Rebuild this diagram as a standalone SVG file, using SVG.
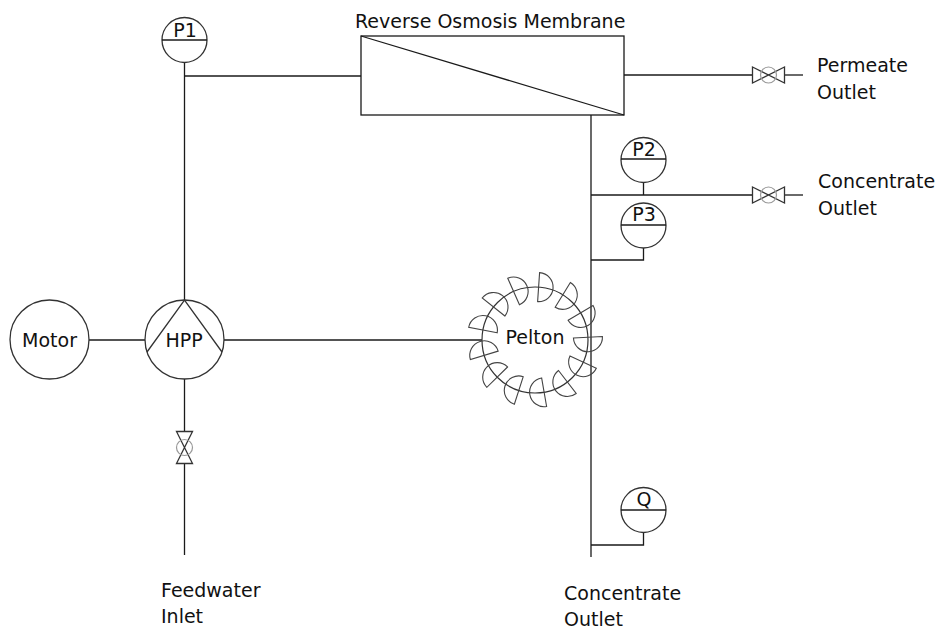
<svg xmlns="http://www.w3.org/2000/svg" xmlns:xlink="http://www.w3.org/1999/xlink" width="939" height="630" viewBox="0 0 939 630">
  <style>
    .ln { fill: none; stroke: #1a1a1a; stroke-width: 1.3; }
    .sym { fill: none; stroke: #333; stroke-width: 1.3; }
    .soft { fill: none; stroke: #999; stroke-width: 1.2; }
    .lbl { font-family: "DejaVu Sans", Verdana, sans-serif; font-size: 19px; fill: #111; }
    .tag { font-family: "DejaVu Sans", Verdana, sans-serif; font-size: 19px; fill: #111; text-anchor: middle; }
    .mid { text-anchor: middle; }
  </style>
  <defs>
    <!-- one Pelton bucket: half disc on the wheel rim at angle 0, bulging in the direction of rotation -->
    <path id="bucket" d="M573.5,340 H602.5 A14.5,14.5 0 0 1 573.5,340 Z" fill="none" stroke="#444" stroke-width="1.1"/>
    <!-- gate valve, horizontal, centred on 0,0 -->
    <g id="valve">
      <path class="sym" d="M-16,-8 L16,8 L16,-8 L-16,8 Z"/>
      <circle class="soft" cx="0" cy="0" r="8"/>
    </g>
  </defs>

  <rect width="939" height="630" fill="#fff"/>

  <!-- piping -->
  <g id="connectors">
    <path class="ln" d="M184.5,62.5 V300"/>
    <path class="ln" d="M184.5,76 H361"/>
    <path class="ln" d="M624,75 H752.5"/>
    <path class="ln" d="M784.5,75 H803"/>
    <path class="ln" d="M591,115 V557"/>
    <path class="ln" d="M591,195 H752.5"/>
    <path class="ln" d="M784.5,195 H803"/>
    <path class="ln" d="M643.5,182.5 V195"/>
    <path class="ln" d="M643.5,248 V260 H591"/>
    <path class="ln" d="M643.5,532.5 V545 H591"/>
    <path class="ln" d="M89,340 H145"/>
    <path class="ln" d="M224,340 H482"/>
    <path class="ln" d="M184.5,379 V432"/>
    <path class="ln" d="M184.5,463 V555"/>
  </g>

  <!-- reverse osmosis membrane -->
  <g id="membrane">
    <rect class="ln" x="361" y="36" width="263" height="79"/>
    <path class="ln" d="M361,36 L624,115" stroke="#555"/>
    <text class="lbl" x="355" y="28">Reverse Osmosis Membrane</text>
  </g>

  <!-- pressure gauges and flow meter -->
  <g id="p1">
    <circle class="sym" cx="184.5" cy="40" r="22.5"/>
    <path class="ln" d="M162,40 H207"/>
    <text class="tag" x="185" y="37">P1</text>
  </g>
  <g id="p2">
    <circle class="sym" cx="643.5" cy="160" r="22.5"/>
    <path class="ln" d="M621,159 H666"/>
    <text class="tag" x="644" y="156">P2</text>
  </g>
  <g id="p3">
    <circle class="sym" cx="643.5" cy="225.5" r="22.5"/>
    <path class="ln" d="M621,225 H666"/>
    <text class="tag" x="644" y="221">P3</text>
  </g>
  <g id="q">
    <circle class="sym" cx="643.5" cy="510" r="22.5"/>
    <path class="ln" d="M621,510 H666"/>
    <text class="tag" x="644" y="506">Q</text>
  </g>

  <!-- motor and high pressure pump -->
  <g id="motor">
    <circle class="sym" cx="49.5" cy="339.5" r="39.5"/>
    <text class="lbl mid" x="49.5" y="347">Motor</text>
  </g>
  <g id="hpp">
    <circle class="sym" cx="184.5" cy="339.5" r="39.5"/>
    <path class="sym" d="M147,352 L184.5,300 L222,352"/>
    <text class="lbl mid" x="184" y="347">HPP</text>
  </g>

  <!-- Pelton turbine: wheel with 13 buckets -->
  <g id="pelton">
    <circle cx="535" cy="340" r="53" fill="none" stroke="#333" stroke-width="1.2"/>
    <use xlink:href="#bucket" transform="rotate(-3 535 340)"/>
    <use xlink:href="#bucket" transform="rotate(24.7 535 340)"/>
    <use xlink:href="#bucket" transform="rotate(52.4 535 340)"/>
    <use xlink:href="#bucket" transform="rotate(80.1 535 340)"/>
    <use xlink:href="#bucket" transform="rotate(107.8 535 340)"/>
    <use xlink:href="#bucket" transform="rotate(135.5 535 340)"/>
    <use xlink:href="#bucket" transform="rotate(163.2 535 340)"/>
    <use xlink:href="#bucket" transform="rotate(190.8 535 340)"/>
    <use xlink:href="#bucket" transform="rotate(218.5 535 340)"/>
    <use xlink:href="#bucket" transform="rotate(246.2 535 340)"/>
    <use xlink:href="#bucket" transform="rotate(273.9 535 340)"/>
    <use xlink:href="#bucket" transform="rotate(301.6 535 340)"/>
    <use xlink:href="#bucket" transform="rotate(329.3 535 340)"/>
    <text class="lbl mid" x="535" y="344">Pelton</text>
  </g>

  <!-- valves -->
  <g id="valve-feed">
    <use xlink:href="#valve" transform="translate(184.5 447.5) rotate(90)"/>
  </g>
  <g id="valve-permeate">
    <use xlink:href="#valve" transform="translate(768.5 75)"/>
  </g>
  <g id="valve-concentrate">
    <use xlink:href="#valve" transform="translate(768.5 195)"/>
  </g>

  <!-- inlet and outlet labels -->
  <g id="permeate-outlet">
    <text class="lbl" x="817" y="72">Permeate</text>
    <text class="lbl" x="817" y="99">Outlet</text>
  </g>
  <g id="concentrate-outlet-side">
    <text class="lbl" x="818" y="188">Concentrate</text>
    <text class="lbl" x="818" y="215">Outlet</text>
  </g>
  <g id="feedwater-inlet">
    <text class="lbl" x="161" y="597">Feedwater</text>
    <text class="lbl" x="161" y="623">Inlet</text>
  </g>
  <g id="concentrate-outlet-bottom">
    <text class="lbl" x="564" y="600">Concentrate</text>
    <text class="lbl" x="564" y="626">Outlet</text>
  </g>
</svg>
